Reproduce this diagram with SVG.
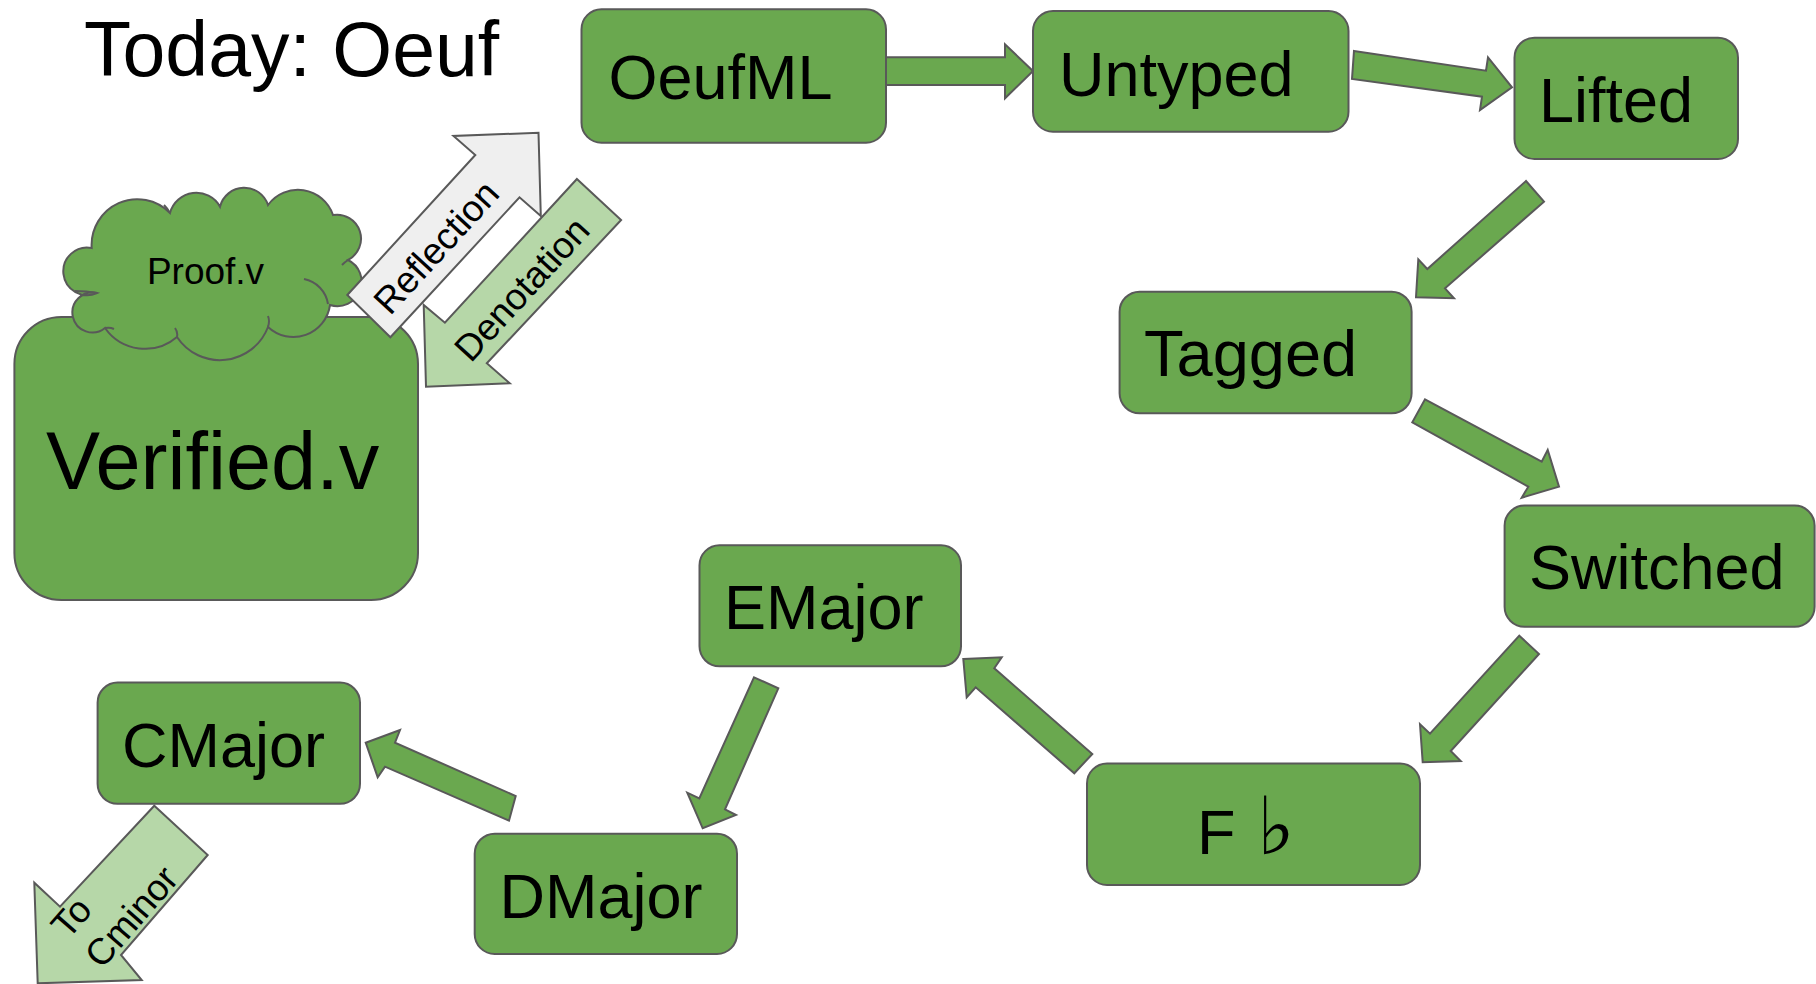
<svg xmlns="http://www.w3.org/2000/svg" width="1816" height="984" viewBox="0 0 1816 984">
<style>
.node{fill:#6aa84f;stroke:#595959;stroke-width:2}
.arrow{fill:#6aa84f;stroke:#595959;stroke-width:2;stroke-linejoin:miter}
.lt{fill:#b6d7a8;stroke:#595959;stroke-width:2}
.gr{fill:#efefef;stroke:#595959;stroke-width:2}
.inner{fill:none;stroke:#595959;stroke-width:2}
text{font-family:"Liberation Sans",Arial,sans-serif;fill:#000}
.big{font-size:63px}
.lbl{font-size:37px}
</style>
<rect width="1816" height="984" fill="#fff"/>
<text id="title" x="84" y="76" font-size="77">Today: Oeuf</text>

<g id="verified">
<rect class="node" x="14.4" y="317" width="403.6" height="283" rx="47" ry="47"/>
<text x="46" y="489" font-size="81">Verified.v</text>
</g>

<g id="proof">
<path class="node" d="M97,293 A23.8,23.8 0 1 1 91.7,248 A45.7,45.7 0 0 1 170,213 A27.2,27.2 0 0 1 220,206.7 A25,25 0 0 1 268,205 A37,37 0 0 1 333,215 A24,24 0 0 1 348,260 A24.3,24.3 0 0 1 330,305 A37,37 0 0 1 268,327 A51.4,51.4 0 0 1 177,337 A49,49 0 0 1 105,328 A20,20 0 1 1 97,293 Z"/>
<path class="inner" d="M304,279 A30,30 0 0 1 328,304 M75,291 Q86,291 97,293 M268,327 Q270,321 268,316 M177,337 Q178,332 175,328 M105,328 Q110,327 114,329 M348,260 Q345,262 342,265 M170,213 Q168,209 164,205"/>
<text x="205.5" y="284" font-size="37" text-anchor="middle">Proof.v</text>
</g>

<g id="connectors">
<polygon class="gr" points="347.3,295 475.3,155 453.5,136 538.5,132.7 540.8,216 519.5,197.3 390.4,337.3"/>
<polygon class="lt" points="576.9,179 621.1,220 486.8,363.3 509.8,383.3 426,386.7 423.7,305 444.9,322.7"/>
<polygon class="arrow" points="886,57.3 1005,57.3 1005,44.3 1033,71 1005,98.3 1005,85 886,85"/>
<polygon class="arrow" points="1354,51 1486,70.7 1488,57.3 1512,87.3 1480,110 1482,96.7 1352,79"/>
<polygon class="arrow" points="1526,181 1544,201.7 1445,288.3 1454,298.3 1416,297.3 1418.3,259.3 1427.3,269"/>
<polygon class="arrow" points="1425,399.3 1541.7,461.7 1547.7,450 1559,486.7 1521.7,497.7 1528.3,486.7 1412.3,422.3"/>
<polygon class="arrow" points="1519.3,635.7 1539,654 1450.7,751 1460.7,761 1422.7,762.3 1420,724.3 1430,733.7"/>
<polygon class="arrow" points="963.3,659 1001.7,657.3 994.3,668.3 1092.3,754 1074.3,773.3 975.7,687.3 966.7,697.3"/>
<polygon class="arrow" points="754,677.3 778.3,688.3 725,809.3 736,815 702.7,828.3 687.3,792.7 699.3,798.3"/>
<polygon class="arrow" points="365.7,742.7 400,730 395,742.7 515.7,796 509,820.7 385,766.7 377.7,777.3"/>
<polygon class="lt" points="154.3,805.7 207.7,855 121,955 141.7,980 37.7,983.3 34.3,882.7 60,906.7"/>
<text class="lbl" transform="translate(436,247) rotate(-47.5)" x="0" y="13" text-anchor="middle">Reflection</text>
<text class="lbl" transform="translate(521.5,289) rotate(-47.5)" x="0" y="13" text-anchor="middle">Denotation</text>
<g transform="translate(131.7,915) rotate(-49)">
<text class="lbl" x="-61" y="-31.3">To</text>
<text class="lbl" x="-61" y="13.5">Cminor</text>
</g>
</g>

<g id="oeufml">
<rect class="node" x="581.5" y="9.3" width="304.5" height="133.4" rx="20"/>
<text class="big" x="608.5" y="99">OeufML</text>
</g>
<g id="untyped">
<rect class="node" x="1033" y="11" width="315.5" height="120.7" rx="20"/>
<text class="big" x="1059" y="95.7">Untyped</text>
</g>
<g id="lifted">
<rect class="node" x="1514.5" y="37.7" width="223.5" height="121.3" rx="20"/>
<text class="big" x="1539" y="121.7">Lifted</text>
</g>
<g id="tagged">
<rect class="node" x="1119.6" y="291.7" width="292" height="121.6" rx="20"/>
<text x="1144" y="376" font-size="65">Tagged</text>
</g>
<g id="switched">
<rect class="node" x="1504.6" y="505.6" width="310" height="121.2" rx="20"/>
<text class="big" x="1529" y="589">Switched</text>
</g>
<g id="fflat">
<rect class="node" x="1087" y="763.5" width="333" height="121.5" rx="20"/>
<text class="big" x="1197" y="853.5">F<tspan x="1257" style="font-family:'DejaVu Sans',sans-serif" font-size="80">♭</tspan></text>
</g>
<g id="emajor">
<rect class="node" x="699.5" y="545.3" width="261.5" height="121" rx="20"/>
<text class="big" x="724" y="628.6">EMajor</text>
</g>
<g id="cmajor">
<rect class="node" x="97.6" y="682.6" width="262.4" height="121.2" rx="20"/>
<text class="big" x="122" y="767">CMajor</text>
</g>
<g id="dmajor">
<rect class="node" x="474.7" y="833.7" width="262.3" height="120.3" rx="20"/>
<text class="big" x="499.5" y="918">DMajor</text>
</g>
</svg>
